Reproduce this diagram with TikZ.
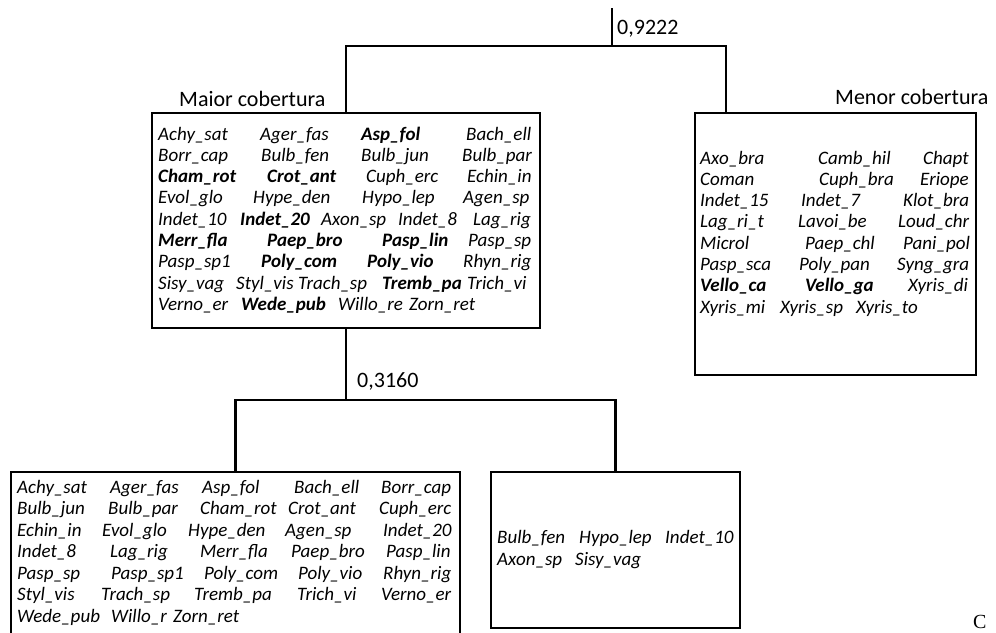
\documentclass[tikz,border=0pt]{standalone}
\usepackage{fontspec}
\setmainfont{Carlito}
\newfontfamily\panelfont{Liberation Serif}
\usepackage{tikz}
\usetikzlibrary{positioning}
\newcommand\wordrow[3]{\foreach \wx/\wt in {#3} \node[word] (#1-\wx) at (\wx,#2) {\wt};}

\begin{document}
\begin{tikzpicture}[
  x=1pt,y=-1pt,
  grp/.style={draw,line width=2.6pt,rectangle,inner sep=0pt,outer sep=0pt},
  word/.style={anchor=base west,inner sep=0pt,font=\fontsize{19}{21}\selectfont\itshape},
  lbl/.style={anchor=base west,inner sep=0pt,font=\fontsize{22}{24}\selectfont},
  tree/.style={line width=2.4pt}
]
\useasboundingbox (0,0) rectangle (996,632);
\node[grp,minimum width=388pt,minimum height=215pt] (maior) at (346,220.5) {};
\node[grp,minimum width=281pt,minimum height=262pt] (menor) at (835.5,244) {};
\node[grp,minimum width=449pt,minimum height=173pt] (grupoA) at (235.5,558.5) {};
\node[grp,minimum width=249pt,minimum height=156pt] (grupoB) at (615.5,550) {};
\coordinate (raiz) at (612,8);
\coordinate (j1) at (612,46);
\coordinate (menortop) at (726,113);
\coordinate (j2) at (346,400);
\draw[tree] (raiz) -- (j1);
\draw[tree] (maior.north) |- (j1) -| (menortop);
\draw[tree] (maior.south) -- (j2);
\draw[tree] (grupoA.north) |- (j2) -| (grupoB.north);
\node[lbl] (d1) at (617,34) {0,9222};
\node[lbl] (d2) at (357,387) {0,3160};
\node[lbl] (lmaior) at (179,106) {Maior cobertura};
\node[lbl] (lmenor) at (835,104) {Menor cobertura};
\node[anchor=base west,inner sep=0pt,font=\panelfont\fontsize{20}{22}\selectfont] (panel) at (973,628) {C};
% maior cobertura
\wordrow{a1}{140}{158/Achy\_sat, 260/Ager\_fas, 361/\textbf{Asp\_fol}, 466/Bach\_ell}
\wordrow{a2}{161.3}{158/Borr\_cap, 261/Bulb\_fen, 361/Bulb\_jun, 462/Bulb\_par}
\wordrow{a3}{182.6}{158/\textbf{Cham\_rot}, 267/\textbf{Crot\_ant}, 366/Cuph\_erc, 467/Echin\_in}
\wordrow{a4}{203.9}{158/Evol\_glo, 253/Hype\_den, 362/Hypo\_lep, 463/Agen\_sp}
\wordrow{a5}{225.2}{158/Indet\_10, 240/\textbf{Indet\_20}, 321/Axon\_sp, 398/Indet\_8, 473/Lag\_rig}
\wordrow{a6}{246.5}{158/\textbf{Merr\_fla}, 267/\textbf{Paep\_bro}, 382/\textbf{Pasp\_lin}, 468/Pasp\_sp}
\wordrow{a7}{267.8}{158/Pasp\_sp1, 261/\textbf{Poly\_com}, 367/\textbf{Poly\_vio}, 463/Rhyn\_rig}
\wordrow{a8}{289.1}{158/Sisy\_vag, 236/Styl\_vis, 298/Trach\_sp, 382/\textbf{Tremb\_pa}, 467/Trich\_vi}
\wordrow{a9}{310.4}{158/Verno\_er, 241/\textbf{Wede\_pub}, 338/Willo\_re, 409/Zorn\_ret}
% menor cobertura
\wordrow{m1}{164}{700/Axo\_bra, 818/Camb\_hil, 923/Chapt}
\wordrow{m2}{185.3}{700/Coman, 819/Cuph\_bra, 920/Eriope}
\wordrow{m3}{206.6}{700/Indet\_15, 801/Indet\_7, 903/Klot\_bra}
\wordrow{m4}{227.9}{700/Lag\_ri\_t, 798/Lavoi\_be, 898/Loud\_chr}
\wordrow{m5}{249.2}{700/Microl, 805/Paep\_chl, 903/Pani\_pol}
\wordrow{m6}{270.5}{700/Pasp\_sca, 799/Poly\_pan, 897/Syng\_gra}
\wordrow{m7}{291.8}{700/\textbf{Vello\_ca}, 805/\textbf{Vello\_ga}, 908/Xyris\_di}
\wordrow{m8}{313.1}{700/Xyris\_mi, 780/Xyris\_sp, 856/Xyris\_to}
% subgrupos
\wordrow{g1}{493}{17/Achy\_sat, 110/Ager\_fas, 202/Asp\_fol, 294/Bach\_ell, 381/Borr\_cap}
\wordrow{g2}{514.5}{17/Bulb\_jun, 108/Bulb\_par, 200/Cham\_rot, 288/Crot\_ant, 379/Cuph\_erc}
\wordrow{g3}{536}{17/Echin\_in, 102/Evol\_glo, 188/Hype\_den, 285/Agen\_sp, 383/Indet\_20}
\wordrow{g4}{557.5}{17/Indet\_8, 110/Lag\_rig, 200/Merr\_fla, 291/Paep\_bro, 386/Pasp\_lin}
\wordrow{g5}{579}{17/Pasp\_sp, 111/Pasp\_sp1, 204/Poly\_com, 298/Poly\_vio, 383/Rhyn\_rig}
\wordrow{g6}{600.5}{17/Styl\_vis, 101/Trach\_sp, 194/Tremb\_pa, 297/Trich\_vi, 381/Verno\_er}
\wordrow{g7}{622}{17/Wede\_pub, 111/Willo\_r, 173/Zorn\_ret}
\wordrow{h1}{543}{497/Bulb\_fen, 579/Hypo\_lep, 665/Indet\_10}
\wordrow{h2}{565}{497/Axon\_sp, 575/Sisy\_vag}
\end{tikzpicture}
\end{document}
